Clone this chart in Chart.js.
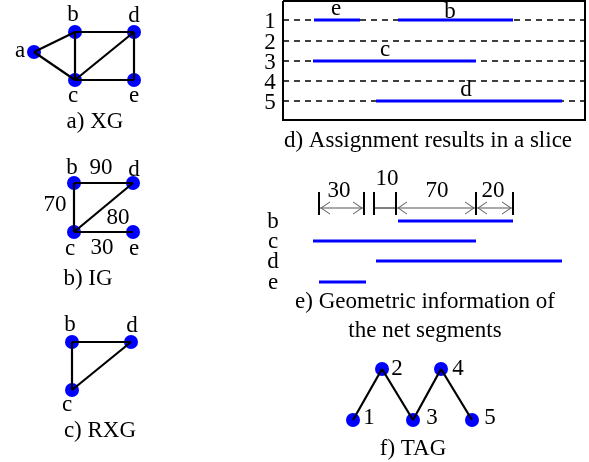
<!DOCTYPE html>
<html><head><meta charset="utf-8">
<script src="https://cdn.jsdelivr.net/npm/chart.js@4/dist/chart.umd.min.js"></script>
<style>html,body{margin:0;padding:0;background:#fff}#wrap{width:589px;height:462px}</style>
</head><body><div id="wrap"><canvas id="c" width="589" height="462"></canvas></div>
<script>
// ---------- DATA (diagram coordinates) ----------
// a) XG
const xgNodes = {a:[34,52], b:[75,32], d:[134,32], c:[75,80], e:[134,80]};
const xgEdges = [['a','b'],['a','c'],['b','d'],['b','c'],['c','d'],['c','e'],['d','e']];
// b) IG
const igNodes = {b:[74,183], d:[133,183], c:[74,232], e:[133,232]};
const igEdges = [['b','d'],['b','c'],['c','d'],['c','e']];
const igWeights = [90, 70, 80, 30];
// c) RXG
const rxgNodes = {b:[72,342], d:[131,342], c:[72,390]};
const rxgEdges = [['b','d'],['b','c'],['c','d']];
// d) Assignment results in a slice
const tracks = [1, 2, 3, 4, 5];
const trackY = [20, 41, 61, 81, 101];
const sliceBox = [283, 585, 1, 120];
const assignNets = ['e', 'b', 'c', 'd'];
const assignTrack = [1, 1, 3, 5];
const assignFrom = [314, 398, 313, 376];
const assignTo = [360, 513, 476, 562];
// e) Geometric information of the net segments
const geoNets = ['b', 'c', 'd', 'e'];
const geoY = [221, 241, 261, 282];
const geoFrom = [398, 313, 376, 319];
const geoTo = [513, 476, 562, 366];
const dimTicks = [319, 364, 374, 396, 476, 513];
const dimValues = [30, 10, 70, 20];
const dimFrom = [319, 374, 396, 476];
const dimTo = [364, 396, 476, 513];
// f) TAG
const tagNodes = {1:[353,420], 2:[382,369], 3:[413,420], 4:[441,369], 5:[472,420]};
const tagEdges = [[1,2],[2,3],[3,4],[4,5]];

// text labels: [text, x, baseline y]
const texts = [
  ['a',20,57],['b',73,21],['d',134,22],['c',73,102],['e',134,102],
  ['a) XG',95,128],
  ['b',72,174],['90',101,174],['d',134,176],['70',55,211],['80',118,224],
  ['c',70,255],['30',102,254],['e',134,255],['b) IG',88,285],
  ['b',70,331],['d',132,332],['c',67,411],['c) RXG',100,437],
  ['e',336,15],['b',450,18],['c',385,56],['d',466,96],
  ['d) Assignment results in a slice',428,147],
  ['30',339,197],['10',387,185],['70',437,197],['20',493,197],
  ['e) Geometric information of',425,308],['the net segments',425,337],
  ['1',369,424],['2',397,375],['3',432,424],['4',458,375],['5',490,424],
  ['f) TAG',413,455]
];

// ---------- BUILD DATASETS ----------
const BLUE = '#0000ff';
const ds = [];
function line(pts, opts){ ds.push(Object.assign({type:'line', data:pts.map(p=>({x:p[0],y:p[1]})), showLine:true, pointRadius:0, borderColor:'#000', borderWidth:2.2, fill:false, tension:0, order:5}, opts||{})); }
function nodes(obj){ ds.push({type:'scatter', data:Object.values(obj).map(p=>({x:p[0],y:p[1]})), pointRadius:7, pointHoverRadius:7, backgroundColor:BLUE, borderColor:BLUE, borderWidth:0, order:10}); }
[[xgNodes,xgEdges],[igNodes,igEdges],[rxgNodes,rxgEdges],[tagNodes,tagEdges]].forEach(([n,e])=>{
  nodes(n);
  e.forEach(([u,v])=>line([n[u],n[v]]));
});
// slice box
line([[sliceBox[0],sliceBox[2]],[sliceBox[1],sliceBox[2]],[sliceBox[1],sliceBox[3]],[sliceBox[0],sliceBox[3]],[sliceBox[0],sliceBox[2]]],{borderWidth:2});
tracks.forEach((t,i)=>line([[sliceBox[0],trackY[i]],[sliceBox[1],trackY[i]]],{borderWidth:1.5,borderDash:[6,5],order:6}));
assignNets.forEach((n,i)=>{const y=trackY[assignTrack[i]-1]; line([[assignFrom[i],y],[assignTo[i],y]],{borderColor:BLUE,borderWidth:3.2,order:1});});
geoNets.forEach((n,i)=>line([[geoFrom[i],geoY[i]],[geoTo[i],geoY[i]]],{borderColor:BLUE,borderWidth:3.2,order:1}));
dimTicks.forEach(x=>line([[x,192],[x,215]],{borderWidth:2}));
dimValues.forEach((v,i)=>line([[dimFrom[i],208],[dimTo[i],208]],{borderWidth:1,borderColor: i===1?'#000':'#555'}));

const textPlugin = {
  id:'txt',
  afterDatasetsDraw(chart){
    const {ctx, scales:{x,y}} = chart;
    ctx.save();
    // arrowheads on dimension lines (except the "10" bar)
    ctx.strokeStyle='#555'; ctx.lineWidth=1;
    dimValues.forEach((v,i)=>{
      if(i===1) return;
      const y0=y.getPixelForValue(208);
      const a=x.getPixelForValue(dimFrom[i]), b=x.getPixelForValue(dimTo[i]);
      ctx.beginPath();
      ctx.moveTo(a+11,y0-6); ctx.lineTo(a+2,y0); ctx.lineTo(a+11,y0+6);
      ctx.moveTo(b-11,y0-6); ctx.lineTo(b-2,y0); ctx.lineTo(b-11,y0+6);
      ctx.stroke();
    });
    ctx.fillStyle='#000';
    ctx.font='23px "Liberation Serif"';
    ctx.textBaseline='alphabetic';
    ctx.textAlign='center';
    tracks.forEach((t,i)=>ctx.fillText(String(t), x.getPixelForValue(270), y.getPixelForValue(trackY[i]+8)));
    geoNets.forEach((n,i)=>ctx.fillText(n, x.getPixelForValue(273), y.getPixelForValue(geoY[i]+7)));
    texts.forEach(([t,tx,ty])=>ctx.fillText(t, x.getPixelForValue(tx), y.getPixelForValue(ty)));
    ctx.restore();
  }
};

new Chart(document.getElementById('c'), {
  type:'scatter',
  data:{datasets:ds},
  options:{
    responsive:false, animation:false, devicePixelRatio:1,
    layout:{padding:0, autoPadding:false},
    events:[],
    plugins:{legend:{display:false}, tooltip:{enabled:false}},
    scales:{
      x:{type:'linear', min:0, max:589, display:false},
      y:{type:'linear', min:0, max:462, reverse:true, display:false}
    }
  },
  plugins:[textPlugin]
});
</script></body></html>
